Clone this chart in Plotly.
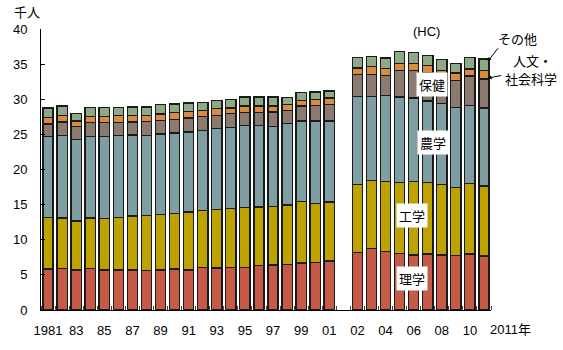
import plotly.graph_objects as go

years = list(range(1981, 2002)) + list(range(2002, 2012))

rigaku = [5.82, 5.91, 5.72, 5.91, 5.72, 5.72, 5.72, 5.63, 5.72, 5.82, 5.72, 6.05, 5.96, 6.05, 6.05,
          6.34, 6.43, 6.52, 6.71, 6.76, 6.95,
          8.18, 8.79, 8.32, 8.04, 7.85, 7.99, 7.85, 7.75, 7.99, 7.71]
kogaku = [7.37, 7.19, 6.95, 7.19, 7.28, 7.47, 7.66, 7.85, 7.85, 7.94, 8.23, 8.09, 8.32, 8.42, 8.51,
          8.32, 8.27, 8.42, 8.70, 8.37, 8.42,
          9.69, 9.65, 9.98, 10.12, 10.40, 10.12, 10.02, 9.70, 10.02, 9.93]
nogaku = [11.49, 11.72, 11.63, 11.63, 11.73, 11.68, 11.54, 11.39, 11.49, 11.44, 11.39, 11.44, 11.54,
          11.49, 11.68, 11.58, 11.45, 11.63, 11.49, 11.77, 11.53,
          12.53, 11.96, 12.24, 12.15, 11.92, 11.63, 11.49, 11.34, 11.11, 11.11]
hoken = [1.80, 1.94, 1.80, 1.94, 1.94, 1.84, 1.84, 1.99, 1.89, 1.94, 1.99, 1.94, 1.89, 1.98, 1.89,
         1.89, 2.03, 1.85, 2.13, 2.22, 2.32,
         3.12, 3.12, 2.83, 3.78, 3.92, 3.97, 3.74, 3.88, 4.17, 4.16]
jinbun = [0.90, 0.95, 0.80, 0.90, 0.90, 0.95, 0.95, 0.85, 0.95, 0.99, 0.94, 0.85, 0.94, 0.81, 0.90,
          0.90, 0.85, 0.80, 0.76, 0.86, 0.95,
          0.95, 1.14, 1.04, 1.04, 1.04, 1.09, 0.99, 1.04, 1.04, 1.18]
sonota = [1.37, 1.32, 1.09, 1.22, 1.22, 1.13, 1.18, 1.18, 1.32, 1.18, 1.19, 1.13, 1.18, 1.18, 1.28,
          1.28, 1.28, 0.99, 1.13, 1.04, 0.99,
          1.51, 1.46, 1.47, 1.65, 1.56, 1.42, 1.56, 1.42, 1.65, 1.65]

series_names = ["理学", "工学", "農学", "保健", "人文・社会科学", "その他"]
series_values = [rigaku, kogaku, nogaku, hoken, jinbun, sonota]
colors = ["#C55A46", "#BDA200", "#7F9EA1", "#8A7A70", "#D98C3F", "#8DAA86"]

tick_years = [1981, 1983, 1985, 1987, 1989, 1991, 1993, 1995, 1997, 1999, 2001,
              2002, 2004, 2006, 2008, 2010]
tick_labels = ["1981", "83", "85", "87", "89", "91", "93", "95", "97", "99", "01",
               "02", "04", "06", "08", "10"]


def pos(y):
    # one empty slot between 2001 and 2002 (break in series)
    return y - 1981 if y <= 2001 else y - 1980


xpos = [pos(y) for y in years]

FONT = "Liberation Sans, Arial, Noto Sans CJK JP, sans-serif"
JFONT = "Noto Sans CJK JP, sans-serif"

fig = go.Figure()
for name, vals, col in zip(series_names, series_values, colors):
    fig.add_trace(go.Bar(
        x=xpos, y=vals, name=name,
        marker=dict(color=col, line=dict(color="#1a1a1a", width=1.4)),
        showlegend=False,
    ))

fig.update_layout(
    width=563, height=350,
    margin=dict(l=41, r=72, t=29, b=38),
    barmode="stack", bargap=0.27,
    plot_bgcolor="white", paper_bgcolor="white",
    font=dict(family=FONT, size=13, color="black"),
    xaxis=dict(
        range=[-0.5, 31.5], tickmode="array",
        tickvals=[pos(y) for y in tick_years], ticktext=tick_labels,
        ticks="", showgrid=False, zeroline=False,
        showline=True, linecolor="black", linewidth=1,
        ticklabelstandoff=8,
        minor=dict(ticks="inside", tickmode="linear", tick0=0.5, dtick=1,
                   ticklen=4, tickcolor="#444", showgrid=False),
    ),
    yaxis=dict(
        range=[0, 40], tickmode="linear", tick0=0, dtick=5,
        ticks="inside", ticklen=4, tickcolor="black",
        showgrid=False, zeroline=False,
        showline=True, linecolor="black", linewidth=1,
        ticklabelstandoff=10,
    ),
)

ann = []
ann.append(dict(x=-0.031, y=1.064, xref="paper", yref="paper", text="千人", showarrow=False,
                xanchor="center", yanchor="middle", font=dict(family=JFONT, size=13)))
ann.append(dict(x=0.993, y=-0.0707, xref="paper", yref="paper", text="2011年", showarrow=False,
                xanchor="left", yanchor="middle", font=dict(family=FONT, size=13)))
ann.append(dict(x=26.93, y=39.7, xref="x", yref="y", text="(HC)", showarrow=False,
                xanchor="center", yanchor="middle", font=dict(family=FONT, size=13)))
for txt, x, y in [("保健", 27.3, 32.1), ("農学", 27.35, 23.8), ("工学", 25.9, 13.4), ("理学", 25.9, 4.5)]:
    ann.append(dict(x=x, y=y, xref="x", yref="y", text=txt, showarrow=False,
                    xanchor="center", yanchor="middle",
                    bgcolor="white", borderpad=2, font=dict(family=JFONT, size=13)))
ann.append(dict(x=1.058, y=0.965, xref="paper", yref="paper", text="その他", showarrow=False,
                xanchor="center", yanchor="middle", font=dict(family=JFONT, size=13)))
ann.append(dict(x=1.092, y=0.887, xref="paper", yref="paper", text="人文・",
                xanchor="center", yanchor="middle",
                showarrow=False, font=dict(family=JFONT, size=13)))
ann.append(dict(x=1.089, y=0.823, xref="paper", yref="paper", text="社会科学",
                xanchor="center", yanchor="middle",
                showarrow=False, font=dict(family=JFONT, size=13)))
# arrows
ann.append(dict(x=31.26, y=35.4, xref="x", yref="y", text=" ", showarrow=True,
                ax=12, ay=-15, standoff=0, arrowhead=2, arrowsize=0.8, arrowwidth=1,
                arrowcolor="black", font=dict(size=1)))
ann.append(dict(x=31.26, y=33.0, xref="x", yref="y", text=" ", showarrow=True,
                ax=15, ay=-3, standoff=0, arrowhead=2, arrowsize=0.8, arrowwidth=1,
                arrowcolor="black", font=dict(size=1)))
fig.update_layout(annotations=ann)

fig.write_html("out.html")
